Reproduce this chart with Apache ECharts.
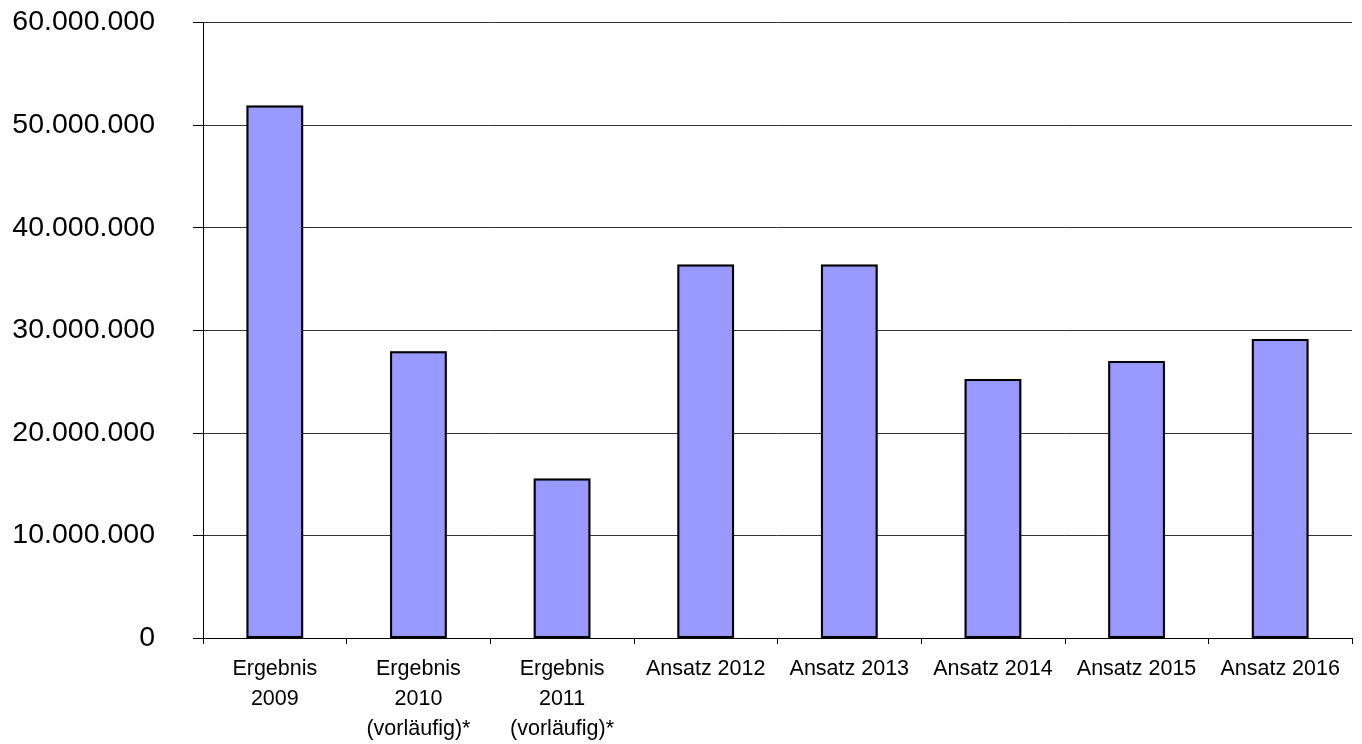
<!DOCTYPE html>
<html>
<head>
<meta charset="utf-8">
<title>Ergebnis und Ansatz 2009–2016</title>
<script src="https://cdn.jsdelivr.net/npm/echarts@6/dist/echarts.min.js"></script>
<style>
  html, body { margin: 0; padding: 0; background: #fff; }
  #chart { width: 1362px; height: 744px; }
</style>
</head>
<body>
<div id="chart"></div>
<script>
// Categories (multi-line labels) and values in EUR
const categories = [
  'Ergebnis\n2009',
  'Ergebnis\n2010\n(vorläufig)*',
  'Ergebnis\n2011\n(vorläufig)*',
  'Ansatz 2012',
  'Ansatz 2013',
  'Ansatz 2014',
  'Ansatz 2015',
  'Ansatz 2016'
];
const values = [51900000, 27950000, 15550000, 36400000, 36400000, 25250000, 27000000, 29150000];

// Y axis scale
const yMin = 0;
const yMax = 60000000;
const yStep = 10000000;

// German thousands separator
function formatDE(v) {
  return String(Math.round(v)).replace(/\B(?=(\d{3})+(?!\d))/g, '.');
}

const chart = echarts.init(document.getElementById('chart'), null, { renderer: 'canvas' });
chart.setOption({
  animation: false,
  backgroundColor: '#ffffff',
  grid: { left: 203, right: 10, top: 22.5, bottom: 103, containLabel: false },
  xAxis: {
    type: 'category',
    data: categories,
    axisLine: { lineStyle: { color: '#000', width: 1 } },
    axisTick: { show: true, length: 6, lineStyle: { color: '#000' } },
    axisLabel: {
      color: '#000',
      fontFamily: 'Liberation Sans, Arial, sans-serif',
      fontSize: 21.5,
      lineHeight: 30,
      margin: 16,
      interval: 0
    },
    splitLine: { show: false }
  },
  yAxis: {
    type: 'value',
    min: yMin,
    max: yMax,
    interval: yStep,
    axisLine: { show: true, lineStyle: { color: '#000', width: 1 } },
    axisTick: { show: true, length: 10, lineStyle: { color: '#000' } },
    axisLabel: {
      color: '#000',
      fontFamily: 'Liberation Sans, Arial, sans-serif',
      fontSize: 28.5,
      margin: 48,
      formatter: formatDE
    },
    splitLine: { show: true, lineStyle: { color: '#333', width: 1 } }
  },
  series: [{
    type: 'bar',
    data: values,
    barWidth: '39.5%',
    itemStyle: {
      color: '#9999ff',
      borderColor: '#000',
      borderWidth: 2,
      shadowColor: 'rgba(0,0,0,0.25)',
      shadowBlur: 1
    }
  }]
});
</script>
</body>
</html>
